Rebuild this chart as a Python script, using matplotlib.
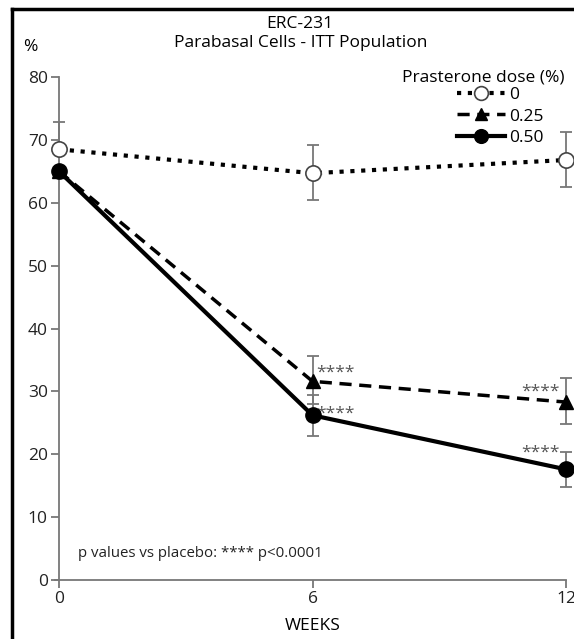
import matplotlib.pyplot as plt
from matplotlib.lines import Line2D

plt.rcParams['font.family'] = ['Open Sans', 'DejaVu Sans']

weeks = [0, 6, 12]

placebo = [68.5, 64.7, 66.8]
placebo_lo = [68.5, 60.5, 62.5]
placebo_hi = [72.8, 69.2, 71.2]

dose_025 = [65.0, 31.6, 28.3]
dose_025_lo = [65.0, 28.0, 24.8]
dose_025_hi = [65.0, 35.6, 32.1]

dose_050 = [65.0, 26.2, 17.6]
dose_050_lo = [65.0, 22.9, 14.8]
dose_050_hi = [65.0, 29.5, 20.3]

FS = 12.5

fig = plt.figure(figsize=(5.74, 6.39), dpi=100)
ax = fig.add_axes([0.1028, 0.0923, 0.8833, 0.7872])

# frame on left and top (picture is cropped)
fig.add_artist(Line2D([12 / 574, 12 / 574], [0, 1 - 9 / 639], color='black', lw=2.5, transform=fig.transFigure))
fig.add_artist(Line2D([12 / 574, 1], [1 - 9 / 639, 1 - 9 / 639], color='black', lw=2.5, transform=fig.transFigure))

def errbars(y, lo, hi):
    for x, v, l, h in zip(weeks, y, lo, hi):
        if h - l > 0.1:
            ax.errorbar(x, v, yerr=[[v - l], [h - v]], fmt='none', ecolor='#777777',
                        elinewidth=1.3, capsize=4, capthick=1.3, clip_on=False, zorder=1)

errbars(placebo, placebo_lo, placebo_hi)
errbars(dose_025, dose_025_lo, dose_025_hi)
errbars(dose_050, dose_050_lo, dose_050_hi)

l0, = ax.plot(weeks, placebo, linestyle=(0, (1, 1.6)), color='black', lw=3,
              marker='o', markersize=11, markerfacecolor='white', markeredgecolor='#444444',
              markeredgewidth=1.2, clip_on=False, zorder=3)
l1, = ax.plot(weeks, dose_025, linestyle=(0, (3.5, 2.2)), color='black', lw=2.5,
              marker='^', markersize=10, markerfacecolor='black', clip_on=False, zorder=3)
l2, = ax.plot(weeks, dose_050, linestyle='-', color='black', lw=3,
              marker='o', markersize=11, markerfacecolor='black', clip_on=False, zorder=4)

star_kw = dict(fontsize=FS, color='#555555')
ax.text(6.1, 33.0, '****', ha='left', va='center', **star_kw)
ax.text(6.1, 26.4, '****', ha='left', va='center', **star_kw)
ax.text(11.85, 30.0, '****', ha='right', va='center', **star_kw)
ax.text(11.85, 20.2, '****', ha='right', va='center', **star_kw)

ax.text(0.45, 3.6, 'p values vs placebo: **** p<0.0001', fontsize=10.8, color='#222222')

fig.text(565 / 574, 1 - 78 / 639, 'Prasterone dose (%)', ha='right', va='center', fontsize=FS)
leg = ax.legend([l0, l1, l2], ['0', '0.25', '0.50'],
                loc='upper right', bbox_to_anchor=(544 / 574, 1 - 87 / 639),
                bbox_transform=fig.transFigure, frameon=False,
                fontsize=FS, handlelength=2.8, handletextpad=0.25,
                labelspacing=0.3, markerscale=0.9, borderpad=0.0, borderaxespad=0.0)

ax.set_xlim(0, 12)
ax.set_ylim(0, 80)
ax.set_xticks(weeks)
ax.set_yticks(range(0, 81, 10))
for s in ['top', 'right']:
    ax.spines[s].set_visible(False)
for s in ['left', 'bottom']:
    ax.spines[s].set_color('#777777')
    ax.spines[s].set_linewidth(1.3)
ax.spines['bottom'].set_bounds(-0.1, 12)
ax.tick_params(colors='#777777', width=1.3, length=6, labelsize=FS, labelcolor='#222222', pad=2)
ax.set_xlabel('WEEKS', fontsize=FS, labelpad=8)

fig.text(0.523, 0.962, 'ERC-231', ha='center', va='center', fontsize=FS)
fig.text(0.523, 0.933, 'Parabasal Cells - ITT Population', ha='center', va='center', fontsize=FS)
fig.text(0.052, 0.926, '%', ha='center', va='center', fontsize=FS)

fig.savefig('out.png', dpi=100)
